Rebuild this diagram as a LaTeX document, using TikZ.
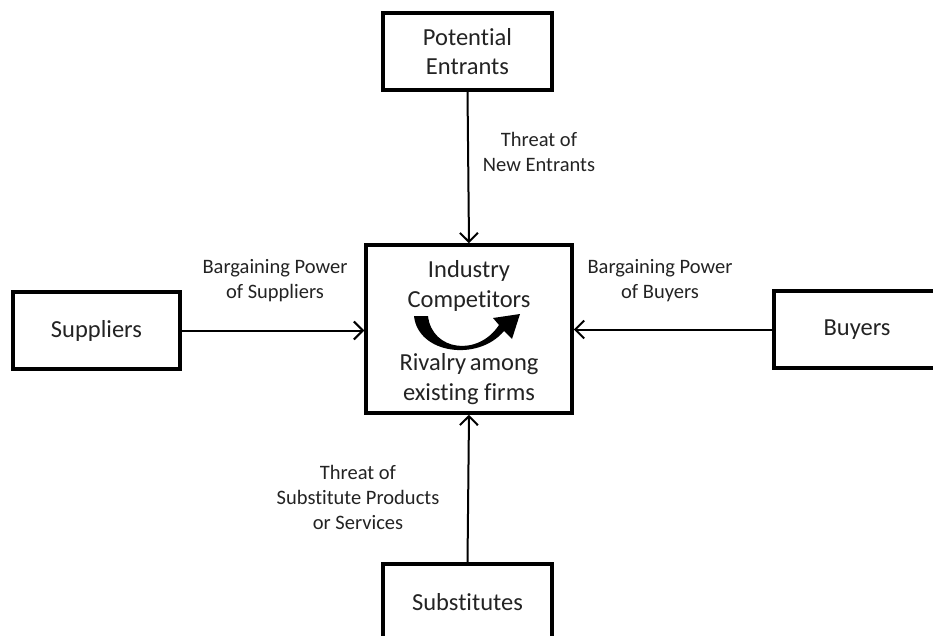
\documentclass[tikz,border=0pt]{standalone}
\usepackage{fontspec}
\setmainfont{Carlito}[Ligatures=NoCommon]
\usetikzlibrary{arrows.meta}
\definecolor{txt}{RGB}{35,35,35}
\begin{document}
\begin{tikzpicture}[x=1pt,y=-1pt,
  box/.style={draw=black,line width=3.5pt,inner sep=0pt,align=center,text=txt,
    font=\fontsize{24.5}{29}\selectfont},
  lbl/.style={inner sep=0pt,align=center,text=txt,font=\fontsize{20.5}{25}\selectfont},
  intext/.style={inner sep=0pt,align=center,text=txt,font=\fontsize{24.5}{30}\selectfont},
  conn/.style={draw=black,line width=2pt,-{Straight Barb[length=9pt,width=18pt,line width=2pt]}}]
\useasboundingbox (0,0) rectangle (933,636);
\clip (0,0) rectangle (933,636);
\fill[white] (0,0) rectangle (933,636);
\node[box,minimum width=169pt,minimum height=77pt] (pe) at (467.5,51.5) {Potential\\Entrants};
\node[box,minimum width=206pt,minimum height=168pt] (c) at (469,329) {};
\node[box,minimum width=167pt,minimum height=77pt] (sup) at (96.5,330.5) {Suppliers};
\node[box,minimum width=166pt,minimum height=77pt] (buy) at (857,329.5) {Buyers};
\node[box,minimum width=169pt,minimum height=77pt] (sub) at (467.5,602.5) {Substitutes};
\node[intext] (ic) at (469,286) {Industry\\Competitors};
\node[intext] (rv) at (469,379) {Rivalry\hspace{-2pt} among\\existing firms};
\fill[black] (414,316) .. controls (418,354) and (478,362) .. (504,331)
  -- (512,339) -- (520,314) -- (493,318) -- (499,325)
  .. controls (478,357) and (432,351) .. (428,316) -- cycle;
\draw[conn] (pe.south) -- (c.north);
\draw[conn] (sup.east) -- (sup.east -| c.west);
\draw[conn] (buy.west) -- (buy.west -| c.east);
\draw[conn] (sub.north) -- (c.south);
\node[lbl] (lne) at (539,152) {Threat of\\New Entrants};
\node[lbl] (lbs) at (275,281) {Bargaining Power\\of Suppliers};
\node[lbl] (lbb) at (660,281) {Bargaining Power\\of Buyers};
\node[lbl] (lts) at (358,497) {Threat of\\Substitute Products\\or Services};
\end{tikzpicture}
\end{document}
